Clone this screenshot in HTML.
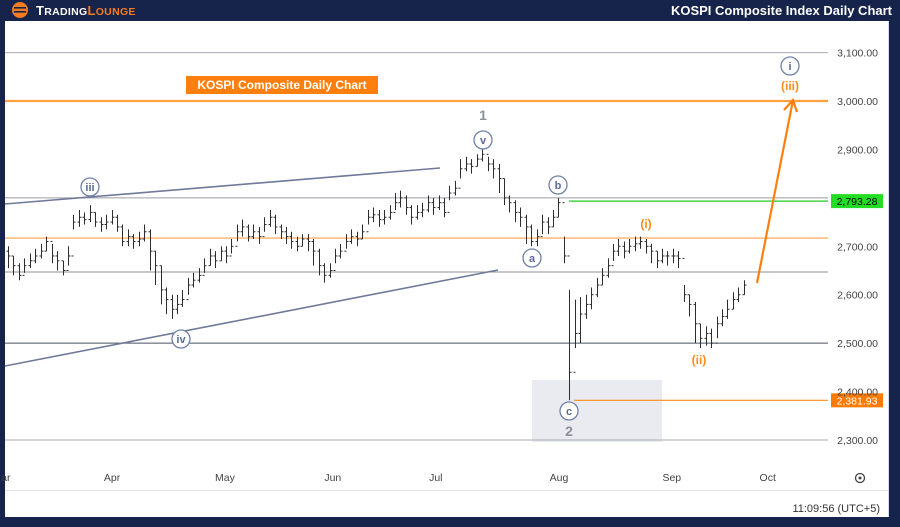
<!DOCTYPE html>
<html><head><meta charset="utf-8"><style>
html,body{margin:0;padding:0;background:#16234a;}
body{width:900px;height:522px;overflow:hidden;font-family:"Liberation Sans",sans-serif;}
</style></head><body>
<svg width="900" height="522" viewBox="0 0 900 522" xmlns="http://www.w3.org/2000/svg">
<rect x="0" y="0" width="900" height="522" fill="#16234a"/>
<rect x="5" y="21" width="883" height="496" fill="#ffffff"/>
<line x1="5" y1="490.5" x2="888" y2="490.5" stroke="#e2e5ec"/>
<line x1="888.5" y1="21" x2="888.5" y2="517" stroke="#d9dce4"/>
<g>
<circle cx="20" cy="10" r="8" fill="#f47b20"/>
<rect x="14" y="7" width="12" height="1.6" fill="#16234a"/><rect x="14" y="11" width="12" height="1.6" fill="#16234a"/>
<text x="36" y="15" font-size="13" font-weight="bold" fill="#ffffff" letter-spacing="0.3">T<tspan font-size="10.5">RADING</tspan><tspan fill="#f47b20">L</tspan><tspan fill="#f47b20" font-size="10.5">OUNGE</tspan></text>
</g>
<text x="892" y="15" text-anchor="end" font-size="13" font-weight="bold" fill="#ffffff">KOSPI Composite Index Daily Chart</text>
<g id="grid"></g>
<rect x="532" y="380" width="130" height="62" fill="#e9ebf0"/>
<g id="lines"></g>
<g id="bars"></g>
<g id="ann"></g>
<g id="axis"></g>
<rect x="186" y="76" width="192" height="18" fill="#ff7f0e"/>
<text x="282" y="89" text-anchor="middle" font-size="12" font-weight="bold" fill="#ffffff">KOSPI Composite Daily Chart</text>
<text x="880" y="512" text-anchor="end" font-size="11" fill="#333">11:09:56 (UTC+5)</text>
<g><circle cx="860" cy="478" r="4.5" fill="none" stroke="#444" stroke-width="1.3"/><circle cx="860" cy="478" r="1.5" fill="#444"/></g>
</svg>
<script>
const priceTicks=[3100,3000,2900,2800,2700,2600,2500,2400,2300];
const priceTickLabels=["3,100.00","3,000.00","2,900.00","2,793.28","2,700.00","2,600.00","2,500.00","2,400.00","2,300.00"];
const monthLabels=["ar","Apr","May","Jun","Jul","Aug","Sep","Oct"];
const monthDayIndex=[-0.4,19.1,39.8,59.6,78.5,101.1,121.8,139.4];
const closes=[2680,2660,2640,2660,2670,2680,2690,2710,2680,2670,2650,2680,2750,2760,2755,2770,2750,2745,2750,2760,2740,2710,2720,2710,2715,2730,2690,2660,2610,2590,2570,2580,2590,2620,2630,2640,2660,2680,2670,2690,2680,2700,2730,2740,2720,2730,2720,2745,2760,2740,2730,2720,2710,2700,2715,2710,2690,2660,2640,2650,2680,2690,2710,2720,2715,2730,2760,2765,2755,2760,2770,2790,2800,2780,2760,2770,2775,2790,2780,2790,2770,2810,2820,2860,2870,2865,2880,2890,2870,2860,2840,2800,2790,2770,2760,2740,2710,2720,2750,2740,2760,2790,2680,2440,2520,2560,2580,2600,2620,2640,2660,2690,2700,2690,2700,2705,2710,2700,2690,2670,2680,2680,2680,2675,2600,2580,2540,2510,2520,2500,2540,2555,2570,2590,2600,2620];
const highs=[2700,2680,2665,2675,2685,2695,2705,2720,2705,2690,2670,2700,2765,2775,2770,2785,2770,2760,2765,2775,2765,2745,2735,2725,2730,2745,2735,2690,2660,2615,2600,2600,2610,2635,2645,2655,2675,2695,2690,2700,2700,2715,2745,2755,2745,2745,2740,2760,2775,2765,2745,2740,2730,2720,2725,2725,2715,2695,2665,2665,2695,2705,2725,2735,2730,2745,2775,2780,2775,2775,2785,2810,2815,2805,2785,2785,2790,2805,2800,2805,2800,2825,2835,2880,2885,2880,2890,2900,2885,2880,2870,2840,2805,2795,2780,2765,2745,2735,2765,2760,2775,2800,2720,2610,2590,2595,2600,2615,2635,2655,2675,2705,2715,2710,2715,2720,2720,2715,2705,2690,2695,2690,2695,2690,2620,2600,2585,2540,2535,2530,2555,2570,2590,2605,2615,2630];
const lows=[2655,2640,2630,2645,2655,2665,2675,2690,2665,2650,2640,2660,2735,2740,2745,2750,2740,2730,2735,2745,2730,2700,2700,2695,2700,2710,2650,2620,2580,2560,2550,2560,2575,2600,2615,2625,2645,2660,2655,2670,2665,2685,2710,2720,2710,2715,2705,2730,2740,2725,2715,2705,2695,2690,2700,2690,2660,2640,2625,2635,2665,2675,2695,2705,2700,2715,2745,2750,2740,2745,2755,2775,2780,2765,2745,2755,2760,2770,2765,2775,2760,2795,2805,2840,2855,2850,2865,2875,2855,2840,2810,2785,2770,2750,2740,2705,2700,2700,2725,2725,2740,2760,2665,2382,2490,2500,2550,2570,2595,2620,2635,2670,2680,2675,2685,2690,2695,2685,2665,2655,2665,2660,2665,2655,2585,2555,2500,2490,2495,2490,2510,2535,2550,2570,2585,2600];
const NS="http://www.w3.org/2000/svg";
function yS(p){return 101+(3000-p)*0.4843;}
function xS(i){return 8+i*5.45;}
function mk(tag,attrs,parent){const e=document.createElementNS(NS,tag);for(const k in attrs)e.setAttribute(k,attrs[k]);document.getElementById(parent).appendChild(e);return e;}
// grid / axis labels
priceTicks.forEach((p,i)=>{
  if(p===2800)return;
  const t=mk('text',{x:878,y:yS(p)+4,'text-anchor':'end','font-size':'10.5',fill:'#444'},'axis');
  t.textContent=priceTickLabels[i];
  
  
});
monthLabels.forEach((m,i)=>{
  const t=mk('text',{x:xS(monthDayIndex[i]),y:481,'text-anchor':'middle','font-size':'10.5',fill:'#444'},'axis');
  t.textContent=m;
  
  
});
// horizontal levels
const levelPrices=[3100,2800,2647,2500,2300];
const levelColors=["#a8abb3","#9a9da5","#8e9199","#4a5060","#a8abb3"];
levelPrices.forEach((p,i)=>{
  const l=mk('line',{x1:5,x2:828,y1:yS(p),y2:yS(p),stroke:levelColors[i],'stroke-width':1},'lines');
  
  
});
const fibPrices=[3000,2717];
const fibWidths=[2.2,1.2];
fibPrices.forEach((p,i)=>{
  const l=mk('line',{x1:5,x2:828,y1:yS(p),y2:yS(p),stroke:'#ffa040','stroke-width':fibWidths[i]},'lines');
  
  
});
const greenLevel=2793.28, redLevel=2381.93;
let g=mk('line',{x1:569,x2:828,y1:yS(greenLevel),y2:yS(greenLevel),stroke:'#22cc22','stroke-width':1.2},'lines');


g=mk('line',{x1:574,x2:828,y1:yS(redLevel),y2:yS(redLevel),stroke:'#ff8c1a','stroke-width':1.2},'lines');


let bx=mk('rect',{x:831,y:yS(greenLevel)-7,width:52,height:14,fill:'#22dd22'},'lines');


let tx=mk('text',{x:857,y:yS(greenLevel)+4,'text-anchor':'middle','font-size':'10.5',fill:'#000'},'lines');
tx.textContent="2,793.28";


bx=mk('rect',{x:831,y:yS(redLevel)-7,width:52,height:14,fill:'#ff7a00'},'lines');


tx=mk('text',{x:857,y:yS(redLevel)+4,'text-anchor':'middle','font-size':'10.5',fill:'#fff'},'lines');
tx.textContent="2,381.93";


// trend lines
let tl=mk('line',{x1:5,y1:204,x2:440,y2:168,stroke:'#6f7a9a','stroke-width':1.6},'lines');


tl=mk('line',{x1:5,y1:366,x2:498,y2:270,stroke:'#6f7a9a','stroke-width':1.6},'lines');


// OHLC bars
closes.forEach((c,i)=>{
  const x=Math.round(xS(i))+0.5;
  const o=i===0?c+10:closes[i-1];
  const grp=mk('g',{stroke:'#2d2d2d','stroke-width':1},'bars');
  
  
  const a=document.createElementNS(NS,'line');a.setAttribute('x1',x);a.setAttribute('x2',x);a.setAttribute('y1',yS(highs[i]));a.setAttribute('y2',yS(lows[i]));grp.appendChild(a);
  const b=document.createElementNS(NS,'line');b.setAttribute('x1',x-2);b.setAttribute('x2',x);b.setAttribute('y1',yS(o));b.setAttribute('y2',yS(o));grp.appendChild(b);
  const d=document.createElementNS(NS,'line');d.setAttribute('x1',x);d.setAttribute('x2',x+2);d.setAttribute('y1',yS(c));d.setAttribute('y2',yS(c));grp.appendChild(d);
});
// projection arrow
let ar=mk('path',{d:'M757 283 L793 100 M784 110 L793 100 L797 112',stroke:'#ff7f0e','stroke-width':2.2,fill:'none'},'ann');


// wave labels
const circLabels=[["iii",90,187],["iv",181,339],["v",483,140],["b",558,185],["a",532,258],["c",569,411],["i",790,66]];
circLabels.forEach(l=>{
  const c=mk('circle',{cx:l[1],cy:l[2],r:9,fill:'#fff',stroke:'#7080a8','stroke-width':1.3},'ann');
  
  
  const t=mk('text',{x:l[1],y:l[2]+4,'text-anchor':'middle','font-size':'11',fill:'#5a6a95','font-weight':'bold'},'ann');
  t.textContent=l[0];
  
  
});
const txtLabels=[["1",483,120,"#8a8f99",14],["2",569,436,"#8a8f99",14],["(iii)",790,90,"#ff8c1a",12],["(i)",646,228,"#ff8c1a",12],["(ii)",699,364,"#ff8c1a",12]];
txtLabels.forEach(l=>{
  const t=mk('text',{x:l[1],y:l[2],'text-anchor':'middle','font-size':l[4],fill:l[3],'font-weight':'bold'},'ann');
  t.textContent=l[0];
  
  
});
</script>
</body></html>
